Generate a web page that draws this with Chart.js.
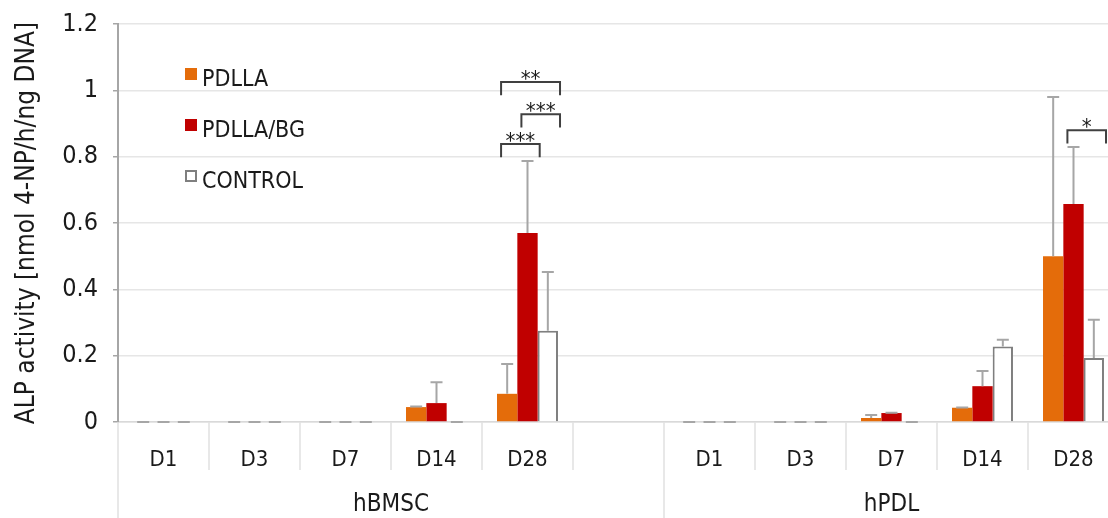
<!DOCTYPE html>
<html>
<head>
<meta charset="utf-8">
<script src="https://cdn.jsdelivr.net/npm/chart.js@4"></script>
<style>
  html, body { margin: 0; padding: 0; background: #fff; overflow: hidden; }
  #chartParent { width: 1119px; height: 518px; }
</style>
</head>
<body>
<div id="chartParent"><canvas id="chart1"></canvas></div>
<script>
// data
const categories = ['D1', 'D3', 'D7', 'D14', 'D28', '', 'D1', 'D3', 'D7', 'D14', 'D28'];
const groupLabels = ['hBMSC', 'hPDL'];
const groupFirst = [0, 6];
const groupLast = [5, 10];

const pdlla      = [0, 0, 0,     0.045, 0.085, null, 0, 0, 0.012, 0.043, 0.500];
const pdllaErr   = [0, 0, 0,     0.002, 0.090, null, 0, 0, 0.009, 0.001, 0.480];
const pdllaBg    = [0, 0, 0,     0.057, 0.570, null, 0, 0, 0.027, 0.108, 0.657];
const pdllaBgErr = [0, 0, 0,     0.063, 0.217, null, 0, 0, 0.001, 0.046, 0.172];
const control    = [0, 0, 0,     0,     0.275, null, 0, 0, 0,     0.228, 0.193];
const controlErr = [0, 0, 0,     0,     0.177, null, 0, 0, 0,     0.020, 0.115];

const yTicks = [0, 0.2, 0.4, 0.6, 0.8, 1, 1.2];

// significance brackets: category, from dataset, to dataset, level, label
const sigCat   = [4, 4, 4, 10];
const sigFrom  = [0, 1, 0, 1];
const sigTo    = [1, 2, 2, 2];
const sigLevel = [0.838, 0.928, 1.025, 0.88];
const sigText  = ['***', '***', '**', '*'];

const FONT = "'Liberation Sans Narrow', 'DejaVu Sans Condensed', Roboto, sans-serif";
const TXT = '#1a1a1a';

const errorBars = {
    id: 'errorBars',
    afterDatasetsDraw(chart) {
        const ctx = chart.ctx;
        const y = chart.scales.y;
        ctx.save();
        ctx.strokeStyle = '#a6a6a6';
        ctx.lineWidth = 2;
        chart.data.datasets.forEach((ds, i) => {
            const meta = chart.getDatasetMeta(i);
            meta.data.forEach((bar, j) => {
                const v = ds.data[j];
                if (v === null) return;
                const top = y.getPixelForValue(v + ds.err[j]);
                const base = y.getPixelForValue(v);
                ctx.beginPath();
                ctx.moveTo(bar.x, base);
                ctx.lineTo(bar.x, top);
                ctx.moveTo(bar.x - 6, top);
                ctx.lineTo(bar.x + 6, top);
                ctx.stroke();
            });
        });
        // brackets
        ctx.strokeStyle = '#404040';
        ctx.lineWidth = 2;
        ctx.fillStyle = TXT;
        ctx.font = '22px ' + FONT;
        ctx.textAlign = 'center';
        ctx.textBaseline = 'alphabetic';
        sigCat.forEach((c, k) => {
            const b1 = chart.getDatasetMeta(sigFrom[k]).data[c];
            const b2 = chart.getDatasetMeta(sigTo[k]).data[c];
            const x1 = b1.x - b1.width * 0.3;
            const x2 = b2.x + b2.width * 0.6;
            const yt = y.getPixelForValue(sigLevel[k]);
            const yb = y.getPixelForValue(sigLevel[k] - 0.04);
            ctx.beginPath();
            ctx.moveTo(x1, yb);
            ctx.lineTo(x1, yt);
            ctx.lineTo(x2, yt);
            ctx.lineTo(x2, yb);
            ctx.stroke();
            ctx.fillText(sigText[k], (x1 + x2) / 2, yt + 4);
        });
        ctx.restore();
    }
};

const axisDecor = {
    id: 'axisDecor',
    afterDraw(chart) {
        const ctx = chart.ctx;
        const x = chart.scales.x;
        const area = chart.chartArea;
        const half = (x.getPixelForValue(1) - x.getPixelForValue(0)) / 2;
        ctx.save();
        ctx.strokeStyle = '#e0e0e0';
        ctx.lineWidth = 1.5;
        for (let i = 0; i < categories.length; i++) {
            const ex = x.getPixelForValue(i) - half;
            const tall = groupFirst.includes(i);
            ctx.beginPath();
            ctx.moveTo(ex, area.bottom);
            ctx.lineTo(ex, tall ? chart.height : area.bottom + 48);
            ctx.stroke();
        }
        ctx.fillStyle = TXT;
        ctx.font = '24px ' + FONT;
        ctx.textAlign = 'center';
        ctx.textBaseline = 'middle';
        groupLabels.forEach((g, k) => {
            const a = x.getPixelForValue(groupFirst[k]) - half;
            const b = x.getPixelForValue(groupLast[k]) + half;
            ctx.fillText(g, (a + b) / 2, 505);
        });
        // legend inside the plot
        ctx.textAlign = 'left';
        chart.data.datasets.forEach((ds, i) => {
            const ly = 80 + i * 51;
            ctx.fillStyle = ds.backgroundColor;
            ctx.fillRect(185, ly - 12, 12, 12);
            if (ds.borderWidth) {
                ctx.strokeStyle = ds.borderColor;
                ctx.lineWidth = 2;
                ctx.strokeRect(186, ly - 11, 10, 10);
            }
            ctx.fillStyle = TXT;
            ctx.font = '23px ' + FONT;
            ctx.fillText(ds.label, 202, ly);
        });
        ctx.restore();
    }
};

new Chart(document.getElementById('chart1'), {
    type: 'bar',
    data: {
        labels: categories,
        datasets: [{
            label: 'PDLLA',
            data: pdlla,
            err: pdllaErr,
            backgroundColor: '#e46c0a',
            borderWidth: 0
        }, {
            label: 'PDLLA/BG',
            data: pdllaBg,
            err: pdllaBgErr,
            backgroundColor: '#c00000',
            borderWidth: 0
        }, {
            label: 'CONTROL',
            data: control,
            err: controlErr,
            backgroundColor: '#ffffff',
            borderColor: '#7f7f7f',
            borderWidth: 2
        }]
    },
    options: {
        responsive: true,
        maintainAspectRatio: false,
        animation: false,
        layout: { padding: { top: 24, right: 0, bottom: 0, left: 0 } },
        categoryPercentage: 0.67,
        barPercentage: 1.0,
        plugins: { legend: { display: false }, tooltip: { enabled: false } },
        scales: {
            x: {
                grid: { display: false, drawTicks: false },
                border: { display: true, color: '#d9d9d9', width: 1.5 },
                ticks: { color: TXT, font: { family: FONT, size: 22 }, padding: 25, maxRotation: 0, autoSkip: false },
                afterFit: (s) => { s.height = 96; s.paddingLeft = 0; s.paddingRight = 0; }
            },
            y: {
                min: 0,
                max: 1.2,
                afterBuildTicks: (s) => { s.ticks = yTicks.map(v => ({ value: v })); },
                grid: { color: '#e6e6e6', lineWidth: 1.5, tickLength: 5, tickColor: '#a6a6a6' },
                border: { color: '#a6a6a6', width: 2 },
                ticks: {
                    color: TXT,
                    font: { family: FONT, size: 25 },
                    padding: 15,
                    callback: (v) => String(+v.toFixed(1))
                },
                title: {
                    display: true,
                    text: 'ALP activity [nmol 4-NP/h/ng DNA]',
                    color: TXT,
                    font: { family: FONT, size: 26 },
                    padding: { top: 12, bottom: 0 }
                },
                afterFit: (s) => { s.width = 118; s.paddingTop = 0; s.paddingBottom = 0; }
            }
        }
    },
    plugins: [errorBars, axisDecor]
});
</script>
</body>
</html>
